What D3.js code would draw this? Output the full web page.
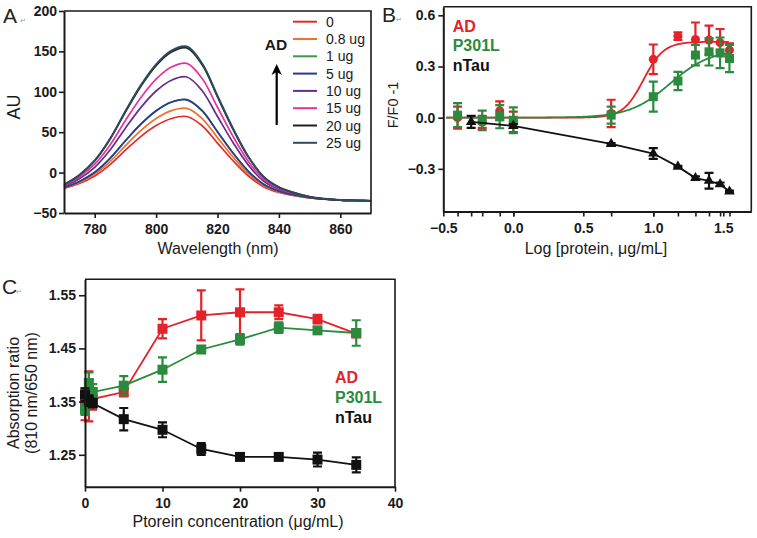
<!DOCTYPE html>
<html><head><meta charset="utf-8">
<script src="https://cdn.jsdelivr.net/npm/d3@7"></script>
<style>body{margin:0;background:#fff;} svg{display:block;}</style>
</head><body>
<svg id="chart" width="757" height="538"></svg>
<script>
// ---------------- Panel A data ----------------
const wavelength = [770,775,780,785,790,795,800,805,810,815,820,825,830,835,840,845,850,855,860,865,870];
const spectraLabels = ["0","0.8 ug","1 ug","5 ug","10 ug","15 ug","20 ug","25 ug"];
const au_0ug   = [-19.7,-13.5,-4.2,9.9,27.8,44.6,58.2,67.0,69.4,58.0,36.5,15.0,-3.9,-17.4,-24.6,-28.5,-31.4,-33.0,-34.0,-34.5,-35.0];
const au_0_8ug = [-19.1,-12.3,-2.0,13.6,33.4,51.9,66.9,76.7,79.4,66.9,43.3,19.6,-1.1,-16.0,-23.8,-28.1,-31.2,-32.9,-34.0,-34.5,-35.0];
const au_1ug   = [-18.7,-11.2,0.2,17.5,39.2,59.7,76.3,87.1,90.1,76.4,50.4,24.4,1.7,-14.5,-23.1,-27.8,-31.1,-32.9,-34.0,-34.5,-35.0];
const au_5ug   = [-18.5,-11.0,0.4,17.7,39.4,59.9,76.5,87.3,90.3,76.6,50.6,24.6,1.9,-14.4,-23.0,-27.7,-31.1,-32.9,-34.0,-34.5,-35.0];
const au_10ug  = [-17.0,-7.6,6.6,28.0,55.0,80.4,101.0,114.4,118.3,101.4,69.5,37.6,9.6,-10.4,-20.9,-26.5,-30.6,-32.7,-34.0,-34.5,-35.0];
const au_15ug  = [-16.1,-5.5,10.4,34.3,64.4,92.7,115.7,130.7,135.1,116.4,80.9,45.3,14.2,-8.0,-19.6,-25.8,-30.3,-32.6,-34.0,-34.5,-35.0];
const au_20ug  = [-15.1,-3.2,14.6,41.3,75.0,106.6,132.4,149.2,154.2,133.4,93.8,54.1,19.5,-5.3,-18.1,-25.1,-30.0,-32.5,-34.0,-34.5,-35.0];
const au_25ug  = [-15.0,-3.0,15.0,42.0,76.0,108.0,134.0,151.0,156.0,135.0,95.0,55.0,20.0,-5.0,-18.0,-25.0,-30.0,-32.5,-34.0,-34.5,-35.0];
const spectraTicksX = [780,800,820,840,860];
const spectraTicksY = [-50,0,50,100,150,200];

// ---------------- Panel B data ----------------
const logConc = [-0.398,-0.301,-0.222,-0.097,0,0.699,1.0,1.176,1.301,1.398,1.477,1.544];
const adB      = [0.00,null,-0.025,0.04,-0.025,0.025,0.342,0.478,0.458,0.455,0.44,0.396];
const adBErr   = [0.065,null,0.035,0.055,0.06,0.08,0.087,0.022,0.10,0.085,0.08,0.04];
const p301B    = [0.015,null,-0.016,0.006,-0.015,0.015,0.123,0.215,0.367,0.386,0.38,0.347];
const p301BErr = [0.07,null,0.057,0.068,0.075,0.05,0.088,0.054,0.06,0.08,0.09,0.08];
const ntauB    = [null,-0.025,null,null,-0.048,-0.154,-0.21,-0.287,-0.354,-0.37,-0.39,-0.433];
const ntauBErr = [null,0.035,null,null,0.01,0.005,0.031,0.005,0.01,0.046,0.01,0.005];
// sigmoidal fit parameters: [bottom, top, logEC50, hillSlope]
const adFit   = [0, 0.445, 0.93, 6];
const p301Fit = [0, 0.40, 1.12, 3];
const bTicksX = [-0.5,0,0.5,1.0,1.5];
const bTicksY = [-0.3,0,0.3,0.6];

// ---------------- Panel C data ----------------
const concC    = [0,0.5,1,5,10,15,20,25,30,35];
const adC      = [1.345,1.36,1.355,1.368,1.487,1.512,1.518,1.518,1.505,1.478];
const adCErr   = [0.03,0.047,0.02,0.008,0.018,0.047,0.043,0.013,0.008,0.006];
const p301C    = [1.335,1.385,1.368,1.38,1.41,1.448,1.467,1.489,1.484,1.479];
const p301CErr = [0.01,0.02,0.015,0.018,0.023,0.004,0.01,0.01,0.005,0.024];
const ntauC    = [1.363,1.352,1.347,1.317,1.297,1.261,1.246,1.246,1.241,1.231];
const ntauCErr = [0.012,0.01,0.008,0.021,0.014,0.011,0.005,0.005,0.013,0.014];
const cTicksX = [0,10,20,30,40];
const cTicksY = [1.25,1.35,1.45,1.55];
const groupNames = ["AD","P301L","nTau"];

// ---------------- styles ----------------
const FONT = '"Liberation Sans", Arial, Helvetica, sans-serif';
const INK = '#1a1a1a';
const spectraColors = ['#e8292b','#f07030','#3a9a4a','#2b3990','#662d91','#e3349a','#231f20','#2b4c5c'];
const groupColors = ['#e4222a','#2a8a3e','#111111'];

const svg = d3.select('#chart');

function styleAxis(g, fs){
  g.attr('font-family', FONT).attr('font-size', fs);
  g.select('.domain').attr('stroke', INK).attr('stroke-width', 2);
  g.selectAll('.tick line').attr('stroke', INK).attr('stroke-width', 1.6);
  g.selectAll('.tick text').attr('font-weight','bold').attr('fill', INK);
}
function frame(x0,x1,y0,y1){
  svg.append('path').attr('d',`M${x0},${y0}H${x1}V${y1}`)
    .attr('fill','none').attr('stroke',INK).attr('stroke-width',1.6);
}
function text(x,y,t,o={}){
  const el = svg.append('text').attr('x',x).attr('y',y).text(t)
    .attr('font-family',FONT).attr('font-size',o.size||14)
    .attr('font-weight',o.weight||'normal').attr('fill',o.fill||INK)
    .attr('text-anchor',o.anchor||'start');
  if(o.rotate) el.attr('x',0).attr('y',0).attr('transform',`translate(${x},${y}) rotate(-90)`);
  return el;
}
function panelLetter(x,y,t){
  text(x,y,t,{size:21, fill:'#222'});
  text(x+ (t==='A'?17:14), y, '\u21B5', {size:7, fill:'#999'});
}

// ================= Panel A =================
const xA = d3.scaleLinear([770,870],[64,371]);
const yA = d3.scaleLinear([-50,200],[213,11]);
const spectra = [au_0ug,au_0_8ug,au_1ug,au_5ug,au_10ug,au_15ug,au_20ug,au_25ug];
const lineA = d3.line().x((d,i)=>xA(wavelength[i])).y(d=>yA(d)).curve(d3.curveCatmullRom);
spectra.forEach((s,k)=>{
  svg.append('path').datum(s).attr('d',lineA).attr('fill','none')
    .attr('stroke',spectraColors[k]).attr('stroke-width',k===7?2:1.7);
});
frame(64,371,11,213);
styleAxis(svg.append('g').attr('transform','translate(0,213)')
  .call(d3.axisBottom(xA).tickValues(spectraTicksX).tickSize(5).tickPadding(6).tickSizeOuter(0)), 14);
styleAxis(svg.append('g').attr('transform','translate(64,0)')
  .call(d3.axisLeft(yA).tickValues(spectraTicksY).tickSize(5).tickPadding(2).tickSizeOuter(0)), 14);
text(218,254,'Wavelength (nm)',{size:16, anchor:'middle'});
text(20,107,'AU',{size:18, anchor:'middle', rotate:true});
// legend
spectraLabels.forEach((lab,k)=>{
  const yy = 21.7 + k*17.3;
  svg.append('line').attr('x1',293).attr('x2',317).attr('y1',yy).attr('y2',yy)
    .attr('stroke',spectraColors[k]).attr('stroke-width',2);
  text(326,yy+5,lab,{size:14});
});
text(276,50,'AD',{size:15.5, weight:'bold', anchor:'middle'});
svg.append('line').attr('x1',276.7).attr('x2',276.7).attr('y1',125).attr('y2',72)
  .attr('stroke','#000').attr('stroke-width',2.2);
svg.append('path').attr('d','M276.7,64 L271.5,75 L276.7,72 L281.9,75 Z').attr('fill','#000');
panelLetter(3,23,'A');

// ================= Panel B =================
const xB = d3.scaleLinear([-0.5,1.7],[443.3,751.3]);
const yB = d3.scaleLinear([-0.55,0.65],[211.5,6.8]);
function sigmoid(p,x){ return p[0] + (p[1]-p[0])/(1+Math.pow(10,(p[2]-x)*p[3])); }
function drawFit(p,color){
  const xs = d3.range(-0.48,1.545,0.01);
  svg.append('path').datum(xs)
    .attr('d',d3.line().x(d=>xB(d)).y(d=>yB(sigmoid(p,d))))
    .attr('fill','none').attr('stroke',color).attr('stroke-width',1.8);
}
function errBars(xs,vals,errs,xS,yS,color,cap){
  vals.forEach((v,i)=>{
    if(v==null || errs[i]==null) return;
    const x = xS(xs[i]), y1 = yS(v+errs[i]), y2 = yS(v-errs[i]);
    svg.append('path').attr('d',`M${x},${y1}V${y2}M${x-cap},${y1}H${x+cap}M${x-cap},${y2}H${x+cap}`)
      .attr('fill','none').attr('stroke',color).attr('stroke-width',2.2);
  });
}
function markers(xs,vals,xS,yS,color,type,size){
  vals.forEach((v,i)=>{
    if(v==null) return;
    svg.append('path').attr('d',d3.symbol(type,size)())
      .attr('transform',`translate(${xS(xs[i])},${yS(v)})`).attr('fill',color);
  });
}
// AD
drawFit(adFit, groupColors[0]);
errBars(logConc,adB,adBErr,xB,yB,groupColors[0],4.5);
markers(logConc,adB,xB,yB,groupColors[0],d3.symbolCircle,64);
// P301L
drawFit(p301Fit, groupColors[1]);
errBars(logConc,p301B,p301BErr,xB,yB,groupColors[1],4.5);
markers(logConc,p301B,xB,yB,groupColors[1],d3.symbolSquare,81);
// nTau
const ntPts = logConc.map((x,i)=>[x,ntauB[i]]).filter(d=>d[1]!=null);
svg.append('path').datum(ntPts).attr('d',d3.line().x(d=>xB(d[0])).y(d=>yB(d[1])))
  .attr('fill','none').attr('stroke',groupColors[2]).attr('stroke-width',1.8);
errBars(logConc,ntauB,ntauBErr,xB,yB,groupColors[2],4.5);
markers(logConc,ntauB,xB,yB,groupColors[2],d3.symbolTriangle,48);

frame(443.3,751.3,6.8,211.5);
const gBx = svg.append('g').attr('transform','translate(0,211.5)');
gBx.call(d3.axisBottom(xB).tickValues(bTicksX).tickFormat(d3.format('.1f')).tickSize(5).tickPadding(7).tickSizeOuter(0));
styleAxis(gBx, 14);
const gBm = svg.append('g').attr('transform','translate(0,211.5)');
gBm.call(d3.axisBottom(xB).tickValues(logConc).tickFormat('').tickSize(5).tickSizeOuter(0));
styleAxis(gBm, 14);
gBm.select('.domain').remove();
styleAxis(svg.append('g').attr('transform','translate(443.3,0)')
  .call(d3.axisLeft(yB).tickValues(bTicksY).tickFormat(d3.format('.1f')).tickSize(5).tickPadding(3).tickSizeOuter(0)), 14);
text(596,254,'Log [protein, \u03BCg/mL]',{size:16, anchor:'middle'});
text(398,105,'F/F0 -1',{size:14.5, anchor:'middle', rotate:true});
groupNames.forEach((n,k)=> text(452.7, 31.7 + k*19.5, n, {size:16, weight:'bold', fill:groupColors[k]}));
panelLetter(382,22,'B');

// ================= Panel C =================
const xC = d3.scaleLinear([0,40],[85,395]);
const yC = d3.scaleLinear([1.19,1.58],[486.7,279.3]);
const cSeries = [[adC,adCErr],[p301C,p301CErr],[ntauC,ntauCErr]];
cSeries.forEach(([vals,errs],k)=>{
  svg.append('path').datum(vals).attr('d',d3.line().x((d,i)=>xC(concC[i])).y(d=>yC(d)))
    .attr('fill','none').attr('stroke',groupColors[k]).attr('stroke-width',1.8);
  errBars(concC,vals,errs,xC,yC,groupColors[k],4.5);
  markers(concC,vals,xC,yC,groupColors[k],d3.symbolSquare,100);
});
frame(85,395,279.3,486.7);
styleAxis(svg.append('g').attr('transform','translate(0,486.7)')
  .call(d3.axisBottom(xC).tickValues(cTicksX).tickSize(5).tickPadding(6).tickSizeOuter(0)), 14);
styleAxis(svg.append('g').attr('transform','translate(85,0)')
  .call(d3.axisLeft(yC).tickValues(cTicksY).tickFormat(d3.format('.2f')).tickSize(6).tickPadding(3).tickSizeOuter(0)), 14);
text(238,527,'Ptorein concentration (\u03BCg/mL)',{size:16, anchor:'middle'});
text(19,393,'Absorption  ratio',{size:16, anchor:'middle', rotate:true});
text(37,393,'(810 nm/650 nm)',{size:16, anchor:'middle', rotate:true});
groupNames.forEach((n,k)=> text(335, 383.3 + k*19.7, n, {size:16, weight:'bold', fill:groupColors[k]}));
panelLetter(2,294,'C');
</script>
</body></html>
